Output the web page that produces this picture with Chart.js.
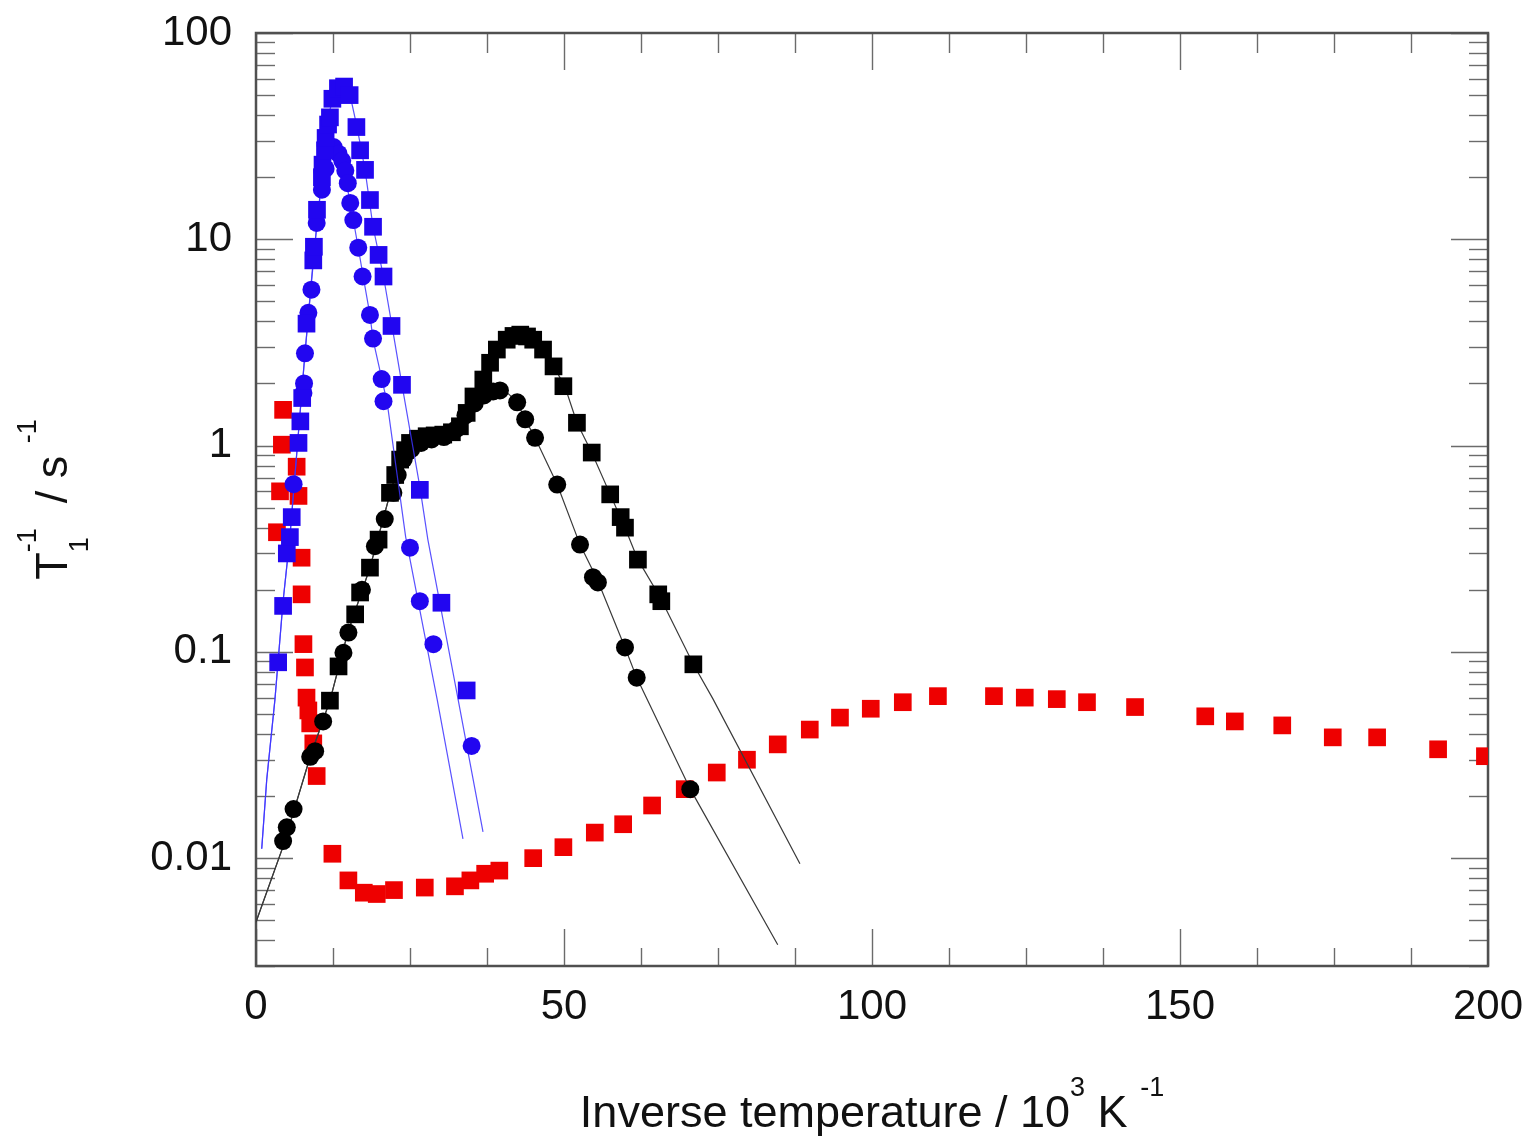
<!DOCTYPE html>
<html>
<head>
<meta charset="utf-8">
<script src="https://cdn.jsdelivr.net/npm/chart.js@4.4.1/dist/chart.umd.min.js"></script>
<style>
  html, body { margin: 0; padding: 0; background: #ffffff; }
  canvas { display: block; }
</style>
</head>
<body>
<canvas id="chart" width="1531" height="1138"></canvas>
<script>
// Axis ticks and labels
const xTickValues = [0, 50, 100, 150, 200];
const yTickValues = [0.01, 0.1, 1, 10, 100];
const yTickLabels = ['0.01', '0.1', '1', '10', '100'];

// Blue squares
const blueSqX = [3.6, 4.4, 5.0, 5.5, 5.8, 6.9, 7.2, 7.5, 8.2, 9.3, 9.4, 9.9, 10.7, 10.8, 11.2, 11.3, 11.7, 12.0, 12.4, 13.3, 14.3, 15.2, 16.3, 16.9, 17.7, 18.5, 19.0, 19.9, 20.7, 22.0, 23.7, 26.6, 30.1, 34.2];
const blueSqY = [0.089, 0.167, 0.30, 0.36, 0.45, 1.03, 1.31, 1.7, 3.9, 7.9, 9.2, 13.9, 20, 23, 27, 31, 36, 39, 48, 54, 55, 50, 35, 27, 21.7, 15.5, 11.5, 8.4, 6.6, 3.8, 1.97, 0.61, 0.173, 0.065];

// Blue circles
const blueCiX = [6.1, 7.7, 7.8, 7.95, 8.5, 9.0, 9.85, 10.7, 11.3, 11.9, 12.6, 13.4, 14.0, 14.5, 14.9, 15.3, 15.8, 16.6, 17.3, 18.5, 19.0, 20.4, 20.7, 25.0, 26.6, 28.8, 35.0];
const blueCiY = [0.65, 1.8, 2.0, 2.8, 4.4, 5.7, 12, 17.4, 22, 27, 28, 26, 24, 21.5, 18.7, 15, 12.4, 9.1, 6.6, 4.3, 3.3, 2.1, 1.64, 0.32, 0.176, 0.109, 0.035];

// Black squares
const blackSqX = [12.0, 13.4, 16.1, 16.9, 18.5, 19.9, 21.75, 22.6, 23.4, 24.2, 25.0, 26.3, 27.7, 29.0, 30.4, 31.8, 33.1, 34.2, 35.3, 36.9, 38.0, 39.1, 40.7, 41.8, 42.9, 44.0, 45.0, 46.6, 48.3, 49.9, 52.1, 54.5, 57.5, 59.2, 59.9, 62.0, 65.3, 65.8, 71.0];
const blackSqY = [0.058, 0.085, 0.152, 0.194, 0.256, 0.35, 0.59, 0.72, 0.855, 0.95, 1.03, 1.08, 1.11, 1.12, 1.13, 1.16, 1.24, 1.44, 1.73, 2.09, 2.52, 2.92, 3.26, 3.4, 3.45, 3.38, 3.26, 2.92, 2.42, 1.94, 1.29, 0.925, 0.58, 0.45, 0.40, 0.28, 0.19, 0.176, 0.087];

// Black circles
const blackCiX = [4.4, 5.0, 6.1, 8.8, 9.6, 10.9, 14.2, 15.0, 17.2, 19.3, 20.9, 22.3, 23.0, 24.0, 25.2, 26.8, 28.5, 30.5, 32.5, 34.0, 35.5, 37.0, 38.5, 39.6, 42.4, 43.7, 45.3, 48.9, 52.6, 54.7, 55.5, 59.9, 61.8, 70.5];
const blackCiY = [0.0121, 0.0141, 0.0173, 0.031, 0.033, 0.046, 0.099, 0.124, 0.20, 0.325, 0.44, 0.59, 0.72, 0.86, 0.96, 1.03, 1.07, 1.1, 1.2, 1.4, 1.6, 1.75, 1.83, 1.85, 1.62, 1.34, 1.09, 0.647, 0.331, 0.23, 0.217, 0.105, 0.075, 0.0216];

// Red squares
const redSqX = [3.4, 3.9, 4.2, 4.4, 6.6, 6.9, 7.4, 7.4, 7.7, 7.95, 8.2, 8.5, 8.8, 9.3, 9.85, 12.4, 15.0, 17.5, 19.6, 22.4, 27.4, 32.3, 34.8, 37.2, 39.5, 45.0, 49.9, 55.0, 59.6, 64.3, 69.6, 74.8, 79.7, 84.7, 89.9, 94.8, 99.8, 105.0, 110.7, 119.8, 124.8, 130.0, 134.9, 142.7, 154.1, 158.9, 166.6, 174.8, 182.0, 191.9, 199.5];
const redSqY = [0.38, 0.6, 1.01, 1.49, 0.79, 0.57, 0.286, 0.19, 0.109, 0.084, 0.06, 0.052, 0.045, 0.036, 0.025, 0.0105, 0.0078, 0.0068, 0.0067, 0.0070, 0.0072, 0.0073, 0.0078, 0.0084, 0.0087, 0.0100, 0.0113, 0.0133, 0.0146, 0.018, 0.0216, 0.026, 0.030, 0.0356, 0.042, 0.048, 0.053, 0.057, 0.061, 0.061, 0.060, 0.059, 0.057, 0.054, 0.0487, 0.046, 0.044, 0.0385, 0.0385, 0.0337, 0.0312];

// Fitted curves
const blueSqFitX = [0.93, 1.74, 3.08, 4.38, 5.5, 6.8, 7.95, 9.3, 10.7, 11.7, 12.6, 13.6, 14.6, 15.4, 16.4, 17.7, 19.0, 20.7, 22.1, 23.7, 26.6, 27.9, 32.8, 36.85];
const blueSqFitY = [0.0111, 0.024, 0.059, 0.174, 0.36, 1.07, 2.8, 8, 20, 39, 50, 56, 55, 48, 35, 21.7, 11.5, 6.6, 3.77, 1.97, 0.63, 0.35, 0.059, 0.0134];
const blueCiFitX = [0.93, 1.74, 3.08, 4.38, 5.5, 6.8, 7.95, 8.9, 9.9, 10.7, 11.7, 12.8, 14.0, 15.3, 16.6, 17.4, 18.5, 19.0, 20.45, 21.3, 24.3, 29.4, 33.6];
const blueCiFitY = [0.0111, 0.024, 0.059, 0.174, 0.36, 1.07, 2.8, 5.7, 12, 19.4, 27, 29, 24, 15, 9.1, 6.6, 4.3, 3.26, 2.09, 1.61, 0.36, 0.059, 0.0124];
const blackSqFitX = [0, 4.4, 8.8, 12.0, 14.9, 18.5, 21.8, 23.4, 25.5, 27.8, 30.7, 32.9, 35.2, 38.0, 40.7, 42.9, 45.0, 47.2, 50.2, 52.1, 54.5, 57.5, 59.9, 62.0, 65.6, 71.0, 74.2, 88.3];
const blackSqFitY = [0.0049, 0.0114, 0.031, 0.058, 0.124, 0.256, 0.59, 0.855, 1.01, 1.1, 1.13, 1.24, 1.73, 2.52, 3.26, 3.45, 3.26, 2.82, 1.91, 1.29, 0.925, 0.58, 0.40, 0.28, 0.184, 0.087, 0.059, 0.0094];
const blackCiFitX = [0, 4.4, 8.8, 12.0, 14.9, 18.5, 21.8, 23.4, 25.5, 27.8, 30.7, 33.0, 35.5, 37.5, 39.6, 41.0, 42.4, 43.7, 45.3, 48.9, 52.6, 55.4, 59.9, 61.8, 70.5, 84.7];
const blackCiFitY = [0.0049, 0.0114, 0.031, 0.058, 0.124, 0.256, 0.59, 0.855, 1.01, 1.08, 1.1, 1.22, 1.55, 1.78, 1.85, 1.78, 1.62, 1.34, 1.09, 0.647, 0.331, 0.224, 0.105, 0.075, 0.0216, 0.0038];

const pts = (xs, ys) => xs.map((x, i) => ({ x, y: ys[i] }));

const FONT_FAMILY = "'Liberation Sans', Arial, Helvetica, sans-serif";
const BLUE = 'rgb(34, 6, 240)';
const RED = 'rgb(238, 0, 0)';
const BLACK = '#000000';

function markers(xs, ys, color, style, radius, order) {
  return {
    data: pts(xs, ys),
    showLine: false,
    pointStyle: style,
    pointRadius: radius,
    pointHoverRadius: radius,
    pointBackgroundColor: color,
    pointBorderColor: color,
    pointBorderWidth: 0,
    order,
    clip: 0
  };
}
function fitLine(xs, ys, color, order) {
  return {
    data: pts(xs, ys),
    showLine: true,
    borderColor: color,
    borderWidth: 1.2,
    pointRadius: 0,
    pointHoverRadius: 0,
    tension: 0,
    fill: false,
    order,
    clip: 0
  };
}

// Inward ticks on all four sides plus the frame
const frameTicks = {
  id: 'frameTicks',
  beforeDatasetsDraw(chart) {
    const { ctx, chartArea: a, scales: { x, y } } = chart;
    ctx.save();
    ctx.strokeStyle = '#6b6b6b';
    ctx.lineWidth = 1.4;
    const seg = (x1, y1, x2, y2) => { ctx.beginPath(); ctx.moveTo(x1, y1); ctx.lineTo(x2, y2); ctx.stroke(); };
    for (let v = 0; v <= 200; v += 12.5) {
      const px = Math.round(x.getPixelForValue(v)) + 0.5;
      const major = v % 50 === 0;
      seg(px, a.bottom, px, a.bottom - (major ? 37 : 18));
      seg(px, a.top, px, a.top + (major ? 37 : 20));
    }
    for (let e = -3; e <= 2; e++) {
      for (let m = 1; m <= 9; m++) {
        const v = m * Math.pow(10, e);
        if (v < y.min * 0.999 || v > y.max * 1.001) continue;
        const py = Math.round(y.getPixelForValue(v)) + 0.5;
        const len = m === 1 ? 37 : 19;
        seg(a.left, py, a.left + len, py);
        seg(a.right, py, a.right - len, py);
      }
    }
    ctx.strokeStyle = '#505050';
    ctx.lineWidth = 2.5;
    ctx.strokeRect(a.left, a.top, a.right - a.left, a.bottom - a.top);
    ctx.restore();
  }
};

// Axis titles with sub- and superscripts
function drawRich(ctx, parts, size, small) {
  const big = `${size}px ${FONT_FAMILY}`;
  const sm = `${small}px ${FONT_FAMILY}`;
  const widthOf = p => {
    if (typeof p === 'string') { ctx.font = big; return ctx.measureText(p).width; }
    ctx.font = sm;
    return Math.max(p.sup ? ctx.measureText(p.sup).width : 0, p.sub ? ctx.measureText(p.sub).width : 0);
  };
  const total = parts.reduce((s, p) => s + widthOf(p), 0);
  let cx = -total / 2;
  ctx.textBaseline = 'alphabetic';
  ctx.textAlign = 'left';
  for (const p of parts) {
    const w = widthOf(p);
    if (typeof p === 'string') {
      ctx.font = big;
      ctx.fillText(p, cx, 0);
    } else {
      ctx.font = sm;
      if (p.sup) ctx.fillText(p.sup, cx, -Math.round(size * 0.7));
      if (p.sub) ctx.fillText(p.sub, cx, Math.round(size * 0.46));
    }
    cx += w;
  }
}

const axisTitles = {
  id: 'axisTitles',
  afterDraw(chart) {
    const { ctx, chartArea: a } = chart;
    ctx.save();
    ctx.fillStyle = '#111111';
    ctx.translate((a.left + a.right) / 2, a.bottom + 161);
    drawRich(ctx, ['Inverse temperature / 10', { sup: '3' }, ' K ', { sup: '-1' }], 45, 27);
    ctx.restore();

    ctx.save();
    ctx.fillStyle = '#111111';
    ctx.translate(a.left - 189, (a.top + a.bottom) / 2);
    ctx.rotate(-Math.PI / 2);
    drawRich(ctx, ['T', { sub: '1', sup: '-1' }, '  / s ', { sup: '-1' }], 45, 27);
    ctx.restore();
  }
};

const tickFont = { family: FONT_FAMILY, size: 42 };

new Chart(document.getElementById('chart'), {
  type: 'scatter',
  data: {
    datasets: [
      markers(blueSqX, blueSqY, BLUE, 'rect', 12.5, 0),
      markers(blueCiX, blueCiY, BLUE, 'circle', 9, 1),
      fitLine(blueSqFitX, blueSqFitY, 'rgba(60, 50, 255, 0.85)', 2),
      fitLine(blueCiFitX, blueCiFitY, 'rgba(60, 50, 255, 0.85)', 3),
      markers(blackSqX, blackSqY, BLACK, 'rect', 12.5, 4),
      markers(blackCiX, blackCiY, BLACK, 'circle', 9, 5),
      fitLine(blackSqFitX, blackSqFitY, '#3a3a3a', 6),
      fitLine(blackCiFitX, blackCiFitY, '#3a3a3a', 7),
      markers(redSqX, redSqY, RED, 'rect', 12.5, 8)
    ]
  },
  options: {
    responsive: false,
    animation: false,
    devicePixelRatio: 1,
    events: [],
    layout: { padding: { top: 33, right: 43, left: 0, bottom: 0 } },
    plugins: {
      legend: { display: false },
      tooltip: { enabled: false },
      title: { display: false }
    },
    scales: {
      x: {
        type: 'linear',
        min: 0,
        max: 200,
        afterBuildTicks(scale) { scale.ticks = xTickValues.map(v => ({ value: v })); },
        afterFit(scale) {
          scale.height = 172;
          scale.paddingLeft = 0; scale.paddingRight = 0;
          scale.paddingTop = 0; scale.paddingBottom = 0;
        },
        ticks: {
          font: tickFont,
          color: '#111111',
          padding: 16,
          maxRotation: 0,
          autoSkip: false,
          callback: v => String(v)
        },
        grid: { display: false, drawTicks: false, tickLength: 0 },
        border: { display: false }
      },
      y: {
        type: 'logarithmic',
        min: 0.003,
        max: 100,
        afterBuildTicks(scale) { scale.ticks = yTickValues.map(v => ({ value: v })); },
        afterFit(scale) {
          scale.width = 256;
          scale.paddingLeft = 0; scale.paddingRight = 0;
          scale.paddingTop = 0; scale.paddingBottom = 0;
        },
        ticks: {
          font: tickFont,
          color: '#111111',
          padding: 24,
          autoSkip: false,
          callback: v => {
            const i = yTickValues.findIndex(t => Math.abs(Math.log10(t) - Math.log10(v)) < 1e-6);
            return i >= 0 ? yTickLabels[i] : '';
          }
        },
        grid: { display: false, drawTicks: false, tickLength: 0 },
        border: { display: false }
      }
    }
  },
  plugins: [frameTicks, axisTitles]
});
</script>
</body>
</html>
